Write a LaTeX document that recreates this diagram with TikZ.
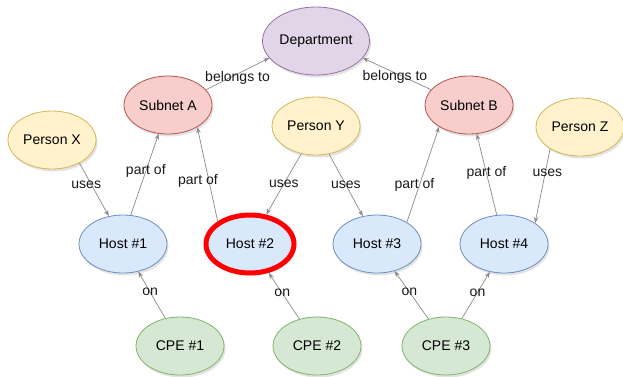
\documentclass[tikz,border=0pt]{standalone}
\usepackage{fontspec}
\setmainfont{Liberation Sans}
\usetikzlibrary{shapes.geometric,arrows.meta,shadows}

\definecolor{deptfill}{HTML}{E1D5E7}
\definecolor{deptline}{HTML}{9673A6}
\definecolor{netfill}{HTML}{F8CECC}
\definecolor{netline}{HTML}{B85450}
\definecolor{userfill}{HTML}{FFF2CC}
\definecolor{userline}{HTML}{D6B656}
\definecolor{hostfill}{HTML}{DAE8FC}
\definecolor{hostline}{HTML}{6C8EBF}
\definecolor{cpefill}{HTML}{D5E8D4}
\definecolor{cpeline}{HTML}{82B366}
\definecolor{edgegray}{HTML}{8A8A8A}

\tikzset{
  ent/.style={ellipse, draw, line width=0.8pt, minimum width=88pt, minimum height=58pt,
    inner sep=0pt, font=\fontsize{14}{16}\selectfont,
    drop shadow={opacity=0.22, shadow xshift=1.5pt, shadow yshift=-2.5pt}},
  deptnode/.style={ent, fill=deptfill, draw=deptline, minimum width=107pt, minimum height=68pt},
  netnode/.style={ent, fill=netfill, draw=netline},
  usernode/.style={ent, fill=userfill, draw=userline},
  hostnode/.style={ent, fill=hostfill, draw=hostline},
  cpenode/.style={ent, fill=cpefill, draw=cpeline},
  rel/.style={draw=edgegray, line width=0.7pt, -{Stealth[length=6pt, width=4.5pt]}},
  lbl/.style={font=\fontsize{14}{16}\selectfont, inner sep=1pt, text=black!90}
}

\begin{document}
\begin{tikzpicture}[x=1pt, y=-1pt]
  \useasboundingbox (0,0) rectangle (623,376);

  % top
  \node[deptnode] (dept) at (316,41) {Department};

  % subnets
  \node[netnode] (subnetA) at (168,105) {Subnet A};
  \node[netnode] (subnetB) at (469,105) {Subnet B};

  % people
  \node[usernode] (personX) at (52,140)  {Person X};
  \node[usernode] (personY) at (316,126) {Person Y};
  \node[usernode] (personZ) at (580,127) {Person Z};

  % hosts
  \node[hostnode] (host1) at (123,244) {Host \#1};
  \node[hostnode, draw=red, line width=5pt] (host2) at (250,244) {Host \#2};
  \node[hostnode] (host3) at (377,244) {Host \#3};
  \node[hostnode] (host4) at (504,244) {Host \#4};

  % cpe
  \node[cpenode] (cpe1) at (180,346) {CPE \#1};
  \node[cpenode] (cpe2) at (317,346) {CPE \#2};
  \node[cpenode] (cpe3) at (446,346) {CPE \#3};

  % belongs to
  \draw[rel] (subnetA.22) -- node[lbl, pos=0.5, yshift=-4pt] (belA) {belongs to} (dept.200);
  \draw[rel] (subnetB.158) -- node[lbl, pos=0.53, yshift=-4pt] (belB) {belongs to} (dept.340);

  % part of
  \draw[rel] (host1.75) -- node[lbl, pos=0.54] (partA1) {part of} (subnetA.252);
  \draw[rel] (host2.145) -- node[lbl, pos=0.43, xshift=-11pt] (partA2) {part of} (subnetA.323);
  \draw[rel] (host3.36) -- node[lbl, pos=0.39, xshift=-5pt] (partB3) {part of} (subnetB.216);
  \draw[rel] (host4.104) -- node[lbl, pos=0.52] (partB4) {part of} (subnetB.285);

  % uses
  \draw[rel] (personX.-40) -- node[lbl, pos=0.4, xshift=-5pt] (useX) {uses} (host1.117);
  \draw[rel] (personY.242) -- node[lbl, pos=0.5] (useY2) {uses} (host2.61);
  \draw[rel] (personY.-65) -- node[lbl, pos=0.5] (useY3) {uses} (host3.117);
  \draw[rel] (personZ.216) -- node[lbl, pos=0.32, xshift=2pt] (useZ) {uses} (host4.34);

  % on
  \draw[rel] (cpe1.118) -- node[lbl, pos=0.56] (on1) {on} (host1.-61);
  \draw[rel] (cpe2.123) -- node[lbl, pos=0.56] (on2) {on} (host2.-57);
  \draw[rel] (cpe3.123) -- node[lbl, pos=0.56] (on3) {on} (host3.-57);
  \draw[rel] (cpe3.60) -- node[lbl, pos=0.56] (on4) {on} (host4.243);
\end{tikzpicture}
\end{document}
